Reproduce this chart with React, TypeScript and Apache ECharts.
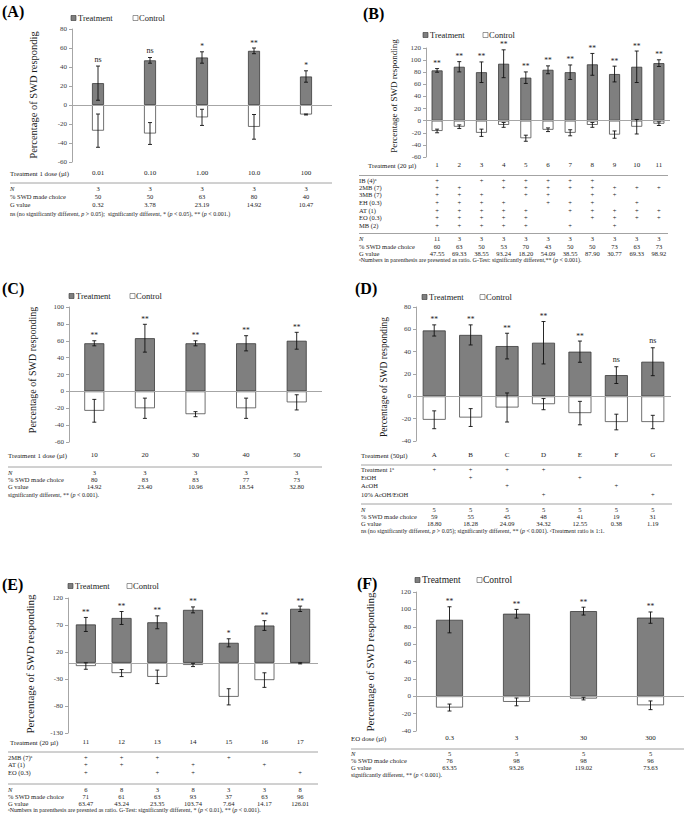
import React, { useEffect, useRef } from 'react';
import * as echarts from 'echarts';

const FONT = '"Liberation Serif", "Times New Roman", Times, serif';

// ---------------- Panel A ----------------
const aCategories = ['0.01', '0.10', '1.00', '10.0', '100'];
const aTreatment = [23, 47, 50, 57, 30];
const aTreatmentErr = [18, 3, 6, 3, 6];
const aControl = [-27, -30, -13, -23, -10];
const aControlErr = [17.5, 11.5, 8.5, 13, 0.5];
const aSignificance = ['ns', 'ns', '*', '**', '*'];
const aN = [3, 3, 3, 3, 3];
const aPct = [50, 50, 63, 80, 40];
const aG = ['0.32', '3.78', '23.19', '14.92', '10.47'];
const aFootnote = 'ns (no significantly different, {i|p} > 0.05);  significantly different, * ({i|p} < 0.05), ** ({i|p} < 0.001.)';

// ---------------- Panel B ----------------
const bCategories = ['1', '2', '3', '4', '5', '6', '7', '8', '9', '10', '11'];
const bTreatment = [83, 89, 80, 94, 71, 84, 80, 93, 77, 89, 95];
const bTreatmentErr = [3, 8.5, 17, 23, 9.5, 6.5, 12, 18, 13, 26, 5.5];
const bControl = [-17, -10, -20, -7, -29, -15, -20, -7, -23, -10, -5];
const bControlErr = [3, 3, 6, 4, 5, 3, 5, 4, 6, 12, 3];
const bSignificance = ['**', '**', '**', '**', '**', '**', '**', '**', '**', '**', '**'];
const bIB = [0, 2, 3, 4, 5, 6, 7];
const b2MB = [0, 1, 3, 4, 5, 6, 7, 8, 9, 10];
const b3MB = [0, 1, 2, 4, 5, 7, 8];
const bEH = [0, 1, 2, 3, 5, 6, 7, 9];
const bAT = [0, 1, 2, 3, 4, 6, 7, 8, 9, 10];
const bEO = [0, 1, 2, 3, 4, 7, 8, 9, 10];
const bMB = [0, 1, 2, 3, 4, 6, 8];
const bN = [11, 3, 3, 3, 3, 3, 3, 3, 3, 3, 3];
const bPct = [60, 63, 50, 53, 70, 43, 50, 50, 73, 63, 73];
const bG = ['47.55', '69.33', '38.55', '93.24', '18.20', '54.09', '38.55', '87.90', '30.77', '69.33', '98.92'];
const bFootnote = 'ᵃNumbers in parenthesis are presented as ratio. G-Test: significantly different,** ({i|p} < 0.001).';

// ---------------- Panel C ----------------
const cCategories = ['10', '20', '30', '40', '50'];
const cTreatment = [57, 63, 57, 57, 60];
const cTreatmentErr = [3, 16.5, 3, 9, 10];
const cControl = [-23, -20, -27, -20, -13];
const cControlErr = [13.5, 12, 3, 12, 9];
const cSignificance = ['**', '**', '**', '**', '**'];
const cN = [3, 3, 3, 3, 3];
const cPct = [80, 83, 83, 77, 73];
const cG = ['14.92', '23.40', '10.96', '18.54', '32.80'];
const cFootnote = 'significantly different, ** ({i|p} < 0.001).';

// ---------------- Panel D ----------------
const dCategories = ['A', 'B', 'C', 'D', 'E', 'F', 'G'];
const dTreatment = [59, 55, 45, 48, 40, 19, 31];
const dTreatmentErr = [5, 9, 11.5, 19, 9.5, 7.5, 12.5];
const dControl = [-21, -19, -10, -7, -15, -23, -23];
const dControlErr = [8, 8, 13, 5, 10.5, 7, 6];
const dSignificance = ['**', '**', '**', '**', '**', 'ns', 'ns'];
const dTreatment1 = [0, 1, 2, 3];
const dEtOH = [1, 4];
const dAcOH = [2, 5];
const dAcOHEtOH = [3, 6];
const dN = [5, 5, 5, 5, 5, 5, 5];
const dPct = [59, 55, 45, 48, 41, 19, 31];
const dG = ['18.80', '18.28', '24.09', '34.32', '12.55', '0.38', '1.19'];
const dFootnote = 'ns (no significantly different, {i|p} > 0.05); significantly different, ** ({i|p} < 0.001). ᵃTreatment ratio is 1:1.';

// ---------------- Panel E ----------------
const eCategories = ['11', '12', '13', '14', '15', '16', '17'];
const eTreatment = [71, 83, 75, 98, 37, 69, 100];
const eTreatmentErr = [13, 12, 12, 5.5, 7.5, 9, 5];
const eControl = [-6, -19, -26, -4, -63, -32, -1];
const eControlErr = [6, 6.5, 12.5, 3, 15, 13.5, 1];
const eSignificance = ['**', '**', '**', '**', '*', '**', '**'];
const e2MB = [0, 1, 2, 4];
const eAT = [0, 1, 3, 5];
const eEO = [0, 2, 3, 6];
const eN = [6, 8, 3, 8, 3, 3, 8];
const ePct = [71, 61, 63, 93, 37, 63, 96];
const eG = ['63.47', '43.24', '23.35', '103.74', '7.64', '14.17', '126.01'];
const eFootnote = 'ᵃNumbers in parenthesis are presnted as ratio. G-Test: significantly different, * ({i|p} < 0.01), ** ({i|p} < 0.001).';

// ---------------- Panel F ----------------
const fCategories = ['0.3', '3', '30', '300'];
const fTreatment = [88, 95, 98, 90.5];
const fTreatmentErr = [15, 5, 4.5, 6.5];
const fControl = [-13, -6.5, -2.7, -10.4];
const fControlErr = [4, 4.5, 1.5, 5];
const fSignificance = ['**', '**', '**', '**'];
const fN = [5, 5, 5, 5];
const fPct = [76, 98, 98, 96];
const fG = ['63.35', '93.26', '119.02', '73.63'];
const fFootnote = 'significantly different, ** ({i|p} < 0.001).';

const plus = (cats: string[], idx: number[]) => cats.map((_, j) => (idx.includes(j) ? '+' : ''));

type Row = { label: string; italic?: boolean; y: number; values: (string | number)[] };
type Panel = {
  cats: string[]; tr: number[]; trE: number[]; ct: number[]; ctE: number[]; sig: string[];
  grid: { left: number; top: number; width: number; height: number };
  y: [number, number, number]; barWidth: number;
  tag: [string, number, number]; legend: [number, number, number, number];
  yName: [string, number, number, number];
  xTitle: [string, number, number];
  lines: [number, number, number][];
  rows: Row[];
  foot: [string, number, number];
};

const panels: Panel[] = [
  {
    cats: aCategories, tr: aTreatment, trE: aTreatmentErr, ct: aControl, ctE: aControlErr, sig: aSignificance,
    grid: { left: 72, top: 29, width: 260, height: 133 }, y: [-60, 80, 20], barWidth: 12,
    tag: ['(A)', 2, 11], legend: [71, 133, 18, 8.5],
    yName: ['Percentage of SWD respondig', 33, 95, 10.5],
    xTitle: ['Treatment 1 dose (µl)', 10, 173],
    lines: [[10, 332, 183]],
    rows: [
      { label: 'N', italic: true, y: 188, values: aN },
      { label: '% SWD made choice', y: 196.5, values: aPct },
      { label: 'G value', y: 204, values: aG },
    ],
    foot: [aFootnote, 10, 213.5],
  },
  {
    cats: bCategories, tr: bTreatment, trE: bTreatmentErr, ct: bControl, ctE: bControlErr, sig: bSignificance,
    grid: { left: 426, top: 48, width: 244, height: 109 }, y: [-60, 120, 20], barWidth: 11,
    tag: ['(B)', 363, 13], legend: [423, 483, 35, 8.5],
    yName: ['Percentage of SWD responding', 394, 96, 9],
    xTitle: ['Treatment (20 µl)', 368, 165],
    lines: [[359, 668, 175.5], [359, 668, 233.5]],
    rows: [
      { label: 'IB (4)ᵃ', y: 180, values: plus(bCategories, bIB) },
      { label: '2MB (7)', y: 187, values: plus(bCategories, b2MB) },
      { label: '3MB (7)', y: 194, values: plus(bCategories, b3MB) },
      { label: 'EH (0.3)', y: 202, values: plus(bCategories, bEH) },
      { label: 'AT (1)', y: 210, values: plus(bCategories, bAT) },
      { label: 'EO (0.3)', y: 217.5, values: plus(bCategories, bEO) },
      { label: 'MB (2)', y: 225, values: plus(bCategories, bMB) },
      { label: 'N', italic: true, y: 238, values: bN },
      { label: '% SWD made choice', y: 246, values: bPct },
      { label: 'G value', y: 253, values: bG },
    ],
    foot: [bFootnote, 359, 260],
  },
  {
    cats: cCategories, tr: cTreatment, trE: cTreatmentErr, ct: cControl, ctE: cControlErr, sig: cSignificance,
    grid: { left: 69, top: 307, width: 253, height: 135 }, y: [-60, 100, 20], barWidth: 20,
    tag: ['(C)', 2, 288], legend: [69, 130, 296, 8.5],
    yName: ['Percentage of SWD responding', 32, 370, 10],
    xTitle: ['Treatment 1 dose (µl)', 8, 455],
    lines: [[8, 322, 467]],
    rows: [
      { label: 'N', italic: true, y: 472, values: cN },
      { label: '% SWD made choice', y: 479, values: cPct },
      { label: 'G value', y: 486, values: cG },
    ],
    foot: [cFootnote, 8, 495],
  },
  {
    cats: dCategories, tr: dTreatment, trE: dTreatmentErr, ct: dControl, ctE: dControlErr, sig: dSignificance,
    grid: { left: 416, top: 307, width: 255, height: 134 }, y: [-40, 80, 20], barWidth: 23,
    tag: ['(D)', 355, 288], legend: [422, 480, 297, 8.5],
    yName: ['Percentage of SWD responding', 384, 377, 9.5],
    xTitle: ['Treatment (50µl)', 361, 455],
    lines: [[361, 672, 465], [361, 672, 504]],
    rows: [
      { label: 'Treatment 1ᵃ', y: 469.5, values: plus(dCategories, dTreatment1) },
      { label: 'EtOH', y: 477, values: plus(dCategories, dEtOH) },
      { label: 'AcOH', y: 485, values: plus(dCategories, dAcOH) },
      { label: '10% AcOH/EtOH', y: 494, values: plus(dCategories, dAcOHEtOH) },
      { label: 'N', italic: true, y: 509, values: dN },
      { label: '% SWD made choice', y: 516, values: dPct },
      { label: 'G value', y: 523, values: dG },
    ],
    foot: [dFootnote, 361, 531],
  },
  {
    cats: eCategories, tr: eTreatment, trE: eTreatmentErr, ct: eControl, ctE: eControlErr, sig: eSignificance,
    grid: { left: 68, top: 598, width: 250, height: 135 }, y: [-130, 120, 50], barWidth: 20,
    tag: ['(E)', 2, 584], legend: [68, 127, 586, 8.5],
    yName: ['Percentage of SWD responding', 30, 664, 11],
    xTitle: ['Treatment (20 µl)', 10, 742],
    lines: [[8, 318, 752], [8, 318, 784]],
    rows: [
      { label: '2MB (7)ᵃ', y: 757, values: plus(eCategories, e2MB) },
      { label: 'AT (1)', y: 764.5, values: plus(eCategories, eAT) },
      { label: 'EO (0.3)', y: 772, values: plus(eCategories, eEO) },
      { label: 'N', italic: true, y: 789, values: eN },
      { label: '% SWD made choice', y: 796, values: ePct },
      { label: 'G value', y: 803, values: eG },
    ],
    foot: [eFootnote, 8, 809.5],
  },
  {
    cats: fCategories, tr: fTreatment, trE: fTreatmentErr, ct: fControl, ctE: fControlErr, sig: fSignificance,
    grid: { left: 416, top: 592, width: 268, height: 139 }, y: [-40, 120, 20], barWidth: 27,
    tag: ['(F)', 357, 583], legend: [415, 477, 580, 9.5],
    yName: ['Percentage of SWD responding', 370, 662, 11],
    xTitle: ['EO dose (µl)', 351, 738],
    lines: [[351, 684, 749]],
    rows: [
      { label: 'N', italic: true, y: 753, values: fN },
      { label: '% SWD made choice', y: 760.5, values: fPct },
      { label: 'G value', y: 767.5, values: fG },
    ],
    foot: [fFootnote, 351, 774.5],
  },
];

const TEXT = '#1a1a1a';

function txt(x: number, y: number, text: string, size: number, o: any = {}) {
  return {
    type: 'text', x, y, silent: true, rotation: o.rotation || 0, z: 50,
    style: {
      text, fontSize: size, fontFamily: FONT, fill: o.fill || TEXT,
      align: o.align || 'left', verticalAlign: o.va || 'middle',
      fontWeight: o.weight || 'normal', fontStyle: o.italic ? 'italic' : 'normal',
      rich: { i: { fontStyle: 'italic', fontSize: size, fontFamily: FONT, fill: o.fill || TEXT } },
    },
  };
}

function errSeries(i: number, vals: number[], errs: number[], sig: string[] | null) {
  return {
    type: 'custom', xAxisIndex: i, yAxisIndex: i, z: 10, silent: true,
    data: vals.map((v, j) => [j, v, errs[j]]),
    renderItem: (params: any, api: any) => {
      const x = api.value(0), v = api.value(1), e = api.value(2);
      const hi = api.coord([x, v + e]);
      const lo = api.coord([x, v - e]);
      const cap = 2;
      const st = { stroke: '#111', lineWidth: 0.9 };
      const children: any[] = [
        { type: 'line', shape: { x1: hi[0], y1: hi[1], x2: lo[0], y2: lo[1] }, style: st },
        { type: 'line', shape: { x1: hi[0] - cap, y1: hi[1], x2: hi[0] + cap, y2: hi[1] }, style: st },
        { type: 'line', shape: { x1: lo[0] - cap, y1: lo[1], x2: lo[0] + cap, y2: lo[1] }, style: st },
      ];
      if (sig) {
        const s = sig[params.dataIndex];
        children.push({
          type: 'text', x: hi[0], y: hi[1] - (s === 'ns' ? 3 : 1),
          style: { text: s, fontSize: s === 'ns' ? 8 : 7.5, fontFamily: FONT, fill: TEXT, align: 'center', verticalAlign: 'bottom' },
        });
      }
      return { type: 'group', children };
    },
  };
}

function buildOption() {
  const grid: any[] = [], xAxis: any[] = [], yAxis: any[] = [], series: any[] = [], graphic: any[] = [];
  panels.forEach((p, i) => {
    const g = p.grid;
    grid.push({ left: g.left, top: g.top, width: g.width, height: g.height, containLabel: false });
    const labelRowY = p.xTitle[2];
    xAxis.push({
      type: 'category', gridIndex: i, data: p.cats,
      axisLine: { show: false, onZero: false }, axisTick: { show: false },
      axisLabel: { margin: labelRowY - (g.top + g.height) - 3.5, fontSize: 7, fontFamily: FONT, color: TEXT, interval: 0 },
    });
    yAxis.push({
      type: 'value', gridIndex: i, min: p.y[0], max: p.y[1], interval: p.y[2],
      axisLine: { show: true, lineStyle: { color: '#a6a6a6', width: 1 } },
      axisTick: { show: true, length: 3, lineStyle: { color: '#a6a6a6' } },
      splitLine: { show: false },
      axisLabel: { margin: 5, fontSize: 7, fontFamily: FONT, color: '#404040' },
    });
    series.push({
      type: 'bar', name: 'Treatment', xAxisIndex: i, yAxisIndex: i, data: p.tr, barWidth: p.barWidth, barGap: '-100%',
      itemStyle: { color: '#7f7f7f', borderColor: '#3a3a3a', borderWidth: 0.8 },
      markLine: {
        silent: true, symbol: ['none', 'none'], label: { show: false },
        lineStyle: { color: '#a6a6a6', width: 1, type: 'solid' }, data: [{ yAxis: 0 }],
      },
    });
    series.push({
      type: 'bar', name: 'Control', xAxisIndex: i, yAxisIndex: i, data: p.ct, barWidth: p.barWidth, barGap: '-100%',
      itemStyle: { color: '#ffffff', borderColor: '#4d4d4d', borderWidth: 0.8 },
    });
    series.push(errSeries(i, p.tr, p.trE, p.sig));
    series.push(errSeries(i, p.ct, p.ctE, null));

    // panel tag
    graphic.push(txt(p.tag[1], p.tag[2], p.tag[0], 16, { weight: 'bold', fill: '#000' }));
    // legend
    const [lx1, lx2, ly, ls] = p.legend;
    graphic.push({ type: 'rect', silent: true, shape: { x: lx1, y: ly - 2.5, width: 5, height: 5 }, style: { fill: '#7f7f7f', stroke: '#333', lineWidth: 0.6 } });
    graphic.push(txt(lx1 + 7, ly, 'Treatment', ls));
    graphic.push({ type: 'rect', silent: true, shape: { x: lx2, y: ly - 2.5, width: 5, height: 5 }, style: { fill: '#fff', stroke: '#555', lineWidth: 0.6 } });
    graphic.push(txt(lx2 + 6, ly, 'Control', ls));
    // y axis name
    graphic.push(txt(p.yName[1], p.yName[2], p.yName[0], p.yName[3], { rotation: Math.PI / 2, align: 'center' }));
    // x title
    graphic.push(txt(p.xTitle[1], p.xTitle[2], p.xTitle[0], 6.8));
    // separator lines
    p.lines.forEach(([x1, x2, y]) => {
      graphic.push({ type: 'line', silent: true, shape: { x1, y1: y, x2, y2: y }, style: { stroke: '#8c8c8c', lineWidth: 0.8 } });
    });
    // table rows
    const step = g.width / p.cats.length;
    p.rows.forEach((r) => {
      graphic.push(txt(p.xTitle[1] - (p.xTitle[1] > p.lines[0][0] ? p.xTitle[1] - p.lines[0][0] : 0), r.y, r.label, 6.5, { italic: r.italic }));
      r.values.forEach((v, j) => {
        if (v === '') return;
        graphic.push(txt(g.left + (j + 0.5) * step, r.y, String(v), 6.5, { align: 'center' }));
      });
    });
    graphic.push(txt(p.foot[1], p.foot[2], p.foot[0], 6));
  });
  return { animation: false, backgroundColor: '#ffffff', grid, xAxis, yAxis, series, graphic };
}

export default function App() {
  const ref = useRef<HTMLDivElement>(null);
  useEffect(() => {
    if (!ref.current) return;
    const chart = echarts.init(ref.current, undefined, { renderer: 'svg' });
    chart.setOption(buildOption() as any);
    return () => chart.dispose();
  }, []);
  return (
    <div
      ref={ref}
      style={{ position: 'fixed', left: 0, top: 0, width: 685, height: 817, background: '#fff' }}
    />
  );
}
